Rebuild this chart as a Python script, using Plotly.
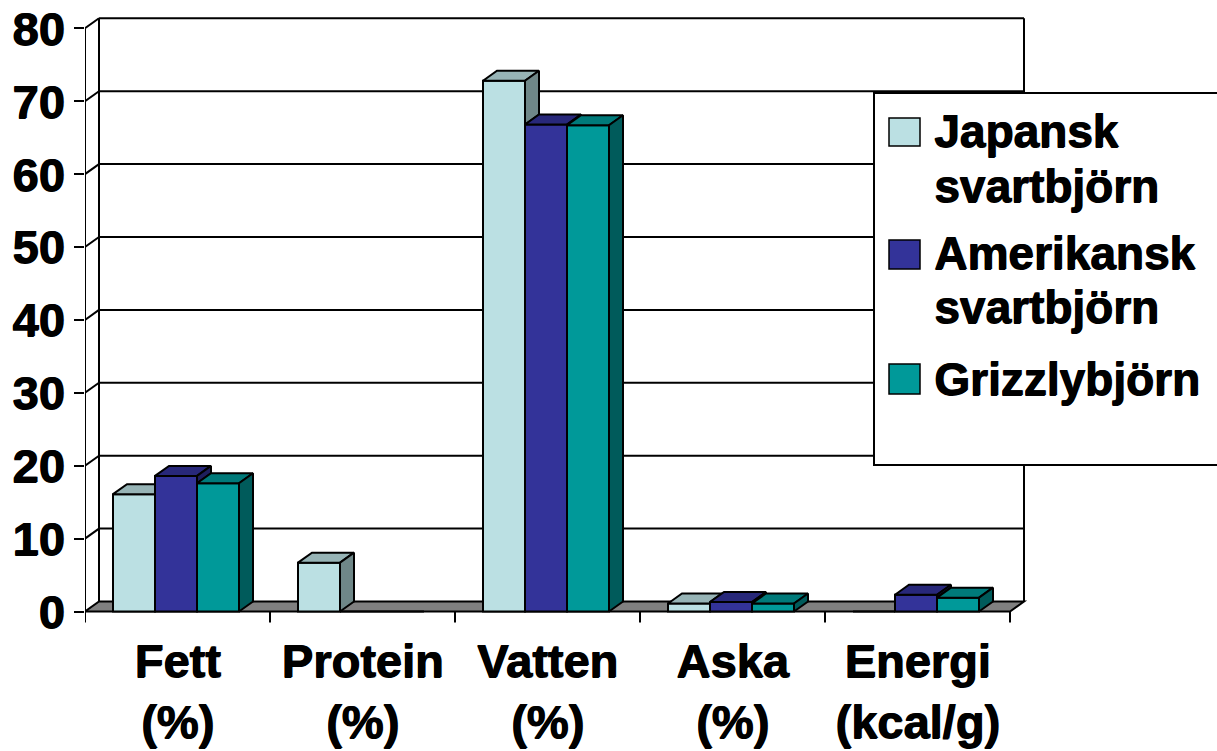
import plotly.graph_objects as go

# ---- data -------------------------------------------------------------
categories = ["Fett<br>(%)", "Protein<br>(%)", "Vatten<br>(%)", "Aska<br>(%)", "Energi<br>(kcal/g)"]
series_names = ["Japansk svartbjörn", "Amerikansk svartbjörn", "Grizzlybjörn"]
japansk = [16.1, 6.7, 72.8, 1.1, 0.0]
amerikansk = [18.6, 0.0, 66.8, 1.3, 2.3]
grizzly = [17.6, 0.0, 66.7, 1.1, 1.9]
y_ticks = [0, 10, 20, 30, 40, 50, 60, 70, 80]

# ---- styling ------------------------------------------------------------
FONT = "Liberation Sans"
HEAVY = "1px 0px 0px black, 0px 1px 0px black"   # thickens the bold glyphs a little
front_colors = ["#BBE0E3", "#333399", "#009999"]
top_colors = ["#97B4B6", "#28287A", "#007A7A"]
side_colors = ["#6F8788", "#1E1E5C", "#005B5B"]
floor_color = "#808080"
LW = 2

W, H = 1217, 751
PX_X = 185.0          # pixels per category
PX_Y = 7.29           # pixels per value unit
ZERO_PX = 611.5       # pixel row of value 0 on the front plane
LEFT_PX, RIGHT_PX = 85, 1032
TOP_PX, BOTTOM_PX = 14, 626

# oblique depth of the 3-D look, converted to data units
DX = 14 / PX_X
DY = 10 / PX_Y
BAR_W = 42 / PX_X
GROUP_HALF = 64.5 / PX_X

x_max = (RIGHT_PX - LEFT_PX) / PX_X
y_top = (ZERO_PX - TOP_PX) / PX_Y
y_bot = (ZERO_PX - BOTTOM_PX) / PX_Y
n_cat = len(categories)
y_max_tick = y_ticks[-1]


def xp(px):
    return (px - LEFT_PX) / (RIGHT_PX - LEFT_PX)


def yp(py):
    return (BOTTOM_PX - py) / (BOTTOM_PX - TOP_PX)


fig = go.Figure()

series = [japansk, amerikansk, grizzly]
centers = [k + 0.5 for k in range(n_cat)]

# front faces of the columns
for i, (name, vals) in enumerate(zip(series_names, series)):
    fig.add_trace(go.Bar(
        x=centers, y=vals, name=name,
        width=BAR_W, offset=-GROUP_HALF + i * BAR_W,
        marker=dict(color=front_colors[i], line=dict(color="black", width=LW)),
        showlegend=False, hoverinfo="x+y",
    ))

# top and side faces, hidden parts trimmed against the neighbouring column
for i, vals in enumerate(series):
    tx, ty, sx, sy = [], [], [], []
    for k in range(n_cat):
        v = vals[k]
        if v <= 0:
            continue
        x0 = centers[k] - GROUP_HALF + i * BAR_W
        x1 = x0 + BAR_W
        h = series[i + 1][k] if i + 1 < len(series) else 0.0
        hc = min(max(h, v), v + DY)
        tx += [x0, x1, x1, x1 + (v + DY - hc) / DY * DX, x0 + DX, x0, None]
        ty += [v, v, hc, v + DY, v + DY, v, None]
        if v > h:
            lo = max(h, 0.0)
            sx += [x1, x1, x1 + DX, x1 + DX, x1, None]
            sy += [lo, v, v + DY, lo + DY, lo, None]
    fig.add_trace(go.Scatter(x=tx, y=ty, mode="lines", fill="toself",
                             fillcolor=top_colors[i], line=dict(color="black", width=LW),
                             showlegend=False, hoverinfo="skip"))
    if sx:
        fig.add_trace(go.Scatter(x=sx, y=sy, mode="lines", fill="toself",
                                 fillcolor=side_colors[i], line=dict(color="black", width=LW),
                                 showlegend=False, hoverinfo="skip"))

shapes = []
line = dict(color="black", width=LW)
# floor slab
shapes.append(dict(type="path", xref="x", yref="y", layer="below",
                   path=f"M 0,0 L {n_cat},0 L {n_cat + DX},{DY} L {DX},{DY} Z",
                   fillcolor=floor_color, line=line))
# back wall grid and left wall diagonals
for v in y_ticks:
    if v > 0:
        shapes.append(dict(type="line", xref="x", yref="y", layer="below",
                           x0=DX, y0=v + DY, x1=n_cat + DX, y1=v + DY, line=line))
        shapes.append(dict(type="line", xref="x", yref="y", layer="below",
                           x0=0, y0=v, x1=DX, y1=v + DY, line=line))
shapes.append(dict(type="line", xref="x", yref="y", layer="below",
                   x0=DX, y0=DY, x1=DX, y1=y_max_tick + DY, line=line))
shapes.append(dict(type="line", xref="x", yref="y", layer="below",
                   x0=n_cat + DX, y0=DY, x1=n_cat + DX, y1=y_max_tick + DY, line=line))
# front value axis
shapes.append(dict(type="line", xref="x", yref="y", layer="below",
                   x0=0, y0=0, x1=0, y1=y_max_tick, line=line))
# category separators below the floor
for k in range(n_cat + 1):
    shapes.append(dict(type="line", xref="x", yref="y", layer="below",
                       x0=k, y0=0, x1=k, y1=-11 / PX_Y, line=line))

# legend box, swatches and labels
shapes.append(dict(type="rect", xref="paper", yref="paper", layer="above",
                   x0=xp(874), x1=xp(1240), y0=yp(465), y1=yp(93),
                   fillcolor="white", line=line))
annotations = []
legend_rows = [(118, 146, [131, 186]), (240, 269, [253, 307]), (364, 394, [379])]
for i, (name, (sw_top, sw_bot, text_mid)) in enumerate(zip(series_names, legend_rows)):
    shapes.append(dict(type="rect", xref="paper", yref="paper", layer="above",
                       x0=xp(889), x1=xp(920), y0=yp(sw_bot), y1=yp(sw_top),
                       fillcolor=front_colors[i], line=dict(color="black", width=1.5)))
    words = name.split(" ")
    for word, ym in zip(words, text_mid):
        annotations.append(dict(xref="paper", yref="paper", x=xp(932), y=yp(ym),
                                xanchor="left", yanchor="middle", showarrow=False,
                                text=f"<b>{word}</b>",
                                font=dict(family=FONT, size=46, color="black",
                                          shadow=HEAVY)))

fig.update_layout(
    template="none",
    width=W, height=H,
    margin=dict(l=LEFT_PX, r=W - RIGHT_PX, t=TOP_PX, b=H - BOTTOM_PX, pad=0,
                autoexpand=False),
    paper_bgcolor="white", plot_bgcolor="white",
    barmode="overlay",
    shapes=shapes, annotations=annotations,
    xaxis=dict(range=[0, x_max], tickvals=centers,
               ticktext=[f"<b>{c.replace('<br>', '</b><br><b>')}</b>" for c in categories],
               tickfont=dict(family=FONT, size=47, color="black", shadow=HEAVY),
               showgrid=False, zeroline=False, showline=False, ticks="",
               automargin=False, ticklabelstandoff=3, fixedrange=True),
    yaxis=dict(range=[y_bot, y_top], tickvals=y_ticks,
               ticktext=[f"<b>{t}</b>" for t in y_ticks],
               tickfont=dict(family=FONT, size=47, color="black", shadow=HEAVY),
               showgrid=False, zeroline=False, showline=False,
               ticks="outside", ticklen=10, tickwidth=LW, tickcolor="black",
               automargin=False, fixedrange=True),
)

fig.write_html("out.html")
